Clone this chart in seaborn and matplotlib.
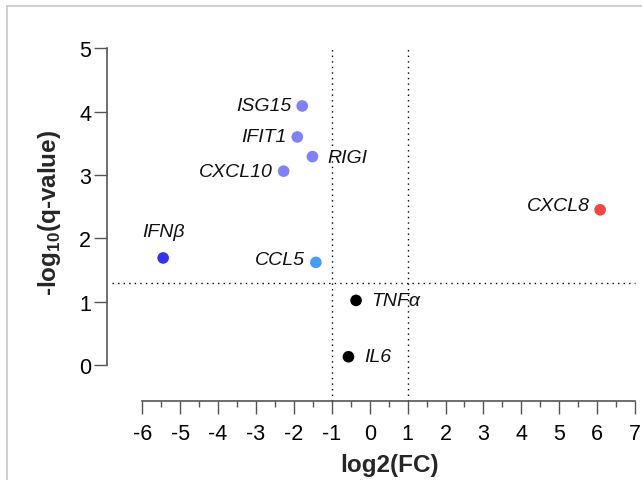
import matplotlib
matplotlib.use("Agg")
import matplotlib.pyplot as plt
from matplotlib.lines import Line2D
from matplotlib.ticker import FixedLocator
import seaborn as sns
import pandas as pd

# ---- data ----
genes = ["ISG15", "IFIT1", "RIGI", "CXCL10", "CCL5", "IFNβ", "CXCL8", "TNFα", "IL6"]
log2fc = [-1.78, -1.91, -1.51, -2.27, -1.42, -5.45, 6.08, -0.36, -0.56]
neglog10q = [4.09, 3.60, 3.29, 3.06, 1.62, 1.69, 2.45, 1.02, 0.13]
colors = ["#8080f7", "#8080f7", "#8080f7", "#8080f7", "#4a9cf2", "#3434f0",
          "#f24545", "#000000", "#000000"]
# label offsets in points (dx, dy) and horizontal alignment
label_dx = [-8, -8, 11, -8, -8, 0, -7, 11, 11]
label_dy = [0, 0, -1, 0, 2, 19, 3, 0, 0]
label_ha = ["right", "right", "left", "right", "right", "center", "right", "left", "left"]

x_ticks = list(range(-6, 8))
x_minor = [-5.5, -4.5, -3.5, -2.5, -1.5, -0.5, 0.5, 1.5, 2.5, 3.5, 4.5, 5.5, 6.5]
y_ticks = list(range(0, 6))
fc_cut = [-1, 1]
q_cut = 1.301

df = pd.DataFrame({"gene": genes, "log2FC": log2fc, "nlq": neglog10q})

sns.set_style("ticks")
plt.rcParams["font.family"] = ["Liberation Sans", "DejaVu Sans"]
plt.rcParams["mathtext.fontset"] = "custom"
plt.rcParams["mathtext.rm"] = "Liberation Sans"
plt.rcParams["mathtext.bf"] = "Liberation Sans:bold"

fig = plt.figure(figsize=(6.42, 4.81), dpi=100)
W, H = 642, 481
ax_l, ax_r, ax_t, ax_b = 106.5, 635.0, 49.3, 402.0
ax = fig.add_axes([ax_l / W, 1 - ax_b / H, (ax_r - ax_l) / W, (ax_b - ax_t) / H])

ylo = -36.0 / 63.33
xlo = -6 - 35.8 / 37.9
ax.set_xlim(xlo, 7)
ax.set_ylim(ylo, 5)

dot = (0, (1, 3))
for v in fc_cut:
    ax.plot([v, v], [ylo, 5], color="black", lw=1.0, ls=dot, zorder=1, clip_on=False)
ax.plot([xlo + 0.15, 7], [q_cut, q_cut], color="black", lw=1.0, ls=dot, zorder=1, clip_on=False)

sns.scatterplot(data=df, x="log2FC", y="nlq", hue="gene", palette=dict(zip(genes, colors)),
                s=70, edgecolor="none", legend=False, ax=ax, zorder=3, clip_on=False)

for g, x, y, dx, dy, ha in zip(genes, log2fc, neglog10q, label_dx, label_dy, label_ha):
    ax.annotate(g, (x, y), xytext=(dx, dy), textcoords="offset points", ha=ha, va="center",
                fontsize=14, fontstyle="italic", color="#111111")

for s in ["top", "right"]:
    ax.spines[s].set_visible(False)
spine_col = "#555555"
ax.spines["left"].set_bounds(0, 5)
ax.spines["bottom"].set_bounds(-6, 7)
for s in ["left", "bottom"]:
    ax.spines[s].set_color(spine_col)
    ax.spines[s].set_linewidth(1.2)

ax.set_xticks(x_ticks)
ax.set_xticklabels([str(t) for t in x_ticks])
ax.set_yticks(y_ticks)
ax.set_yticklabels([str(t) for t in y_ticks])
ax.xaxis.set_minor_locator(FixedLocator(x_minor))
ax.tick_params(axis="both", which="major", length=9.5, width=1.0, color=spine_col,
               labelsize=15.5, labelcolor="black")
ax.tick_params(axis="x", which="major", pad=6)
ax.tick_params(axis="y", which="major", pad=1.5)
ax.tick_params(axis="x", which="minor", length=4.5, width=1.0, color=spine_col)

ax.set_xlabel("log2(FC)", fontsize=17.5, fontweight="bold", va="center")
ax.set_ylabel(r"-log$_{\mathbf{10}}$(q-value)", fontsize=17.5, fontweight="bold", va="center")
ax.xaxis.set_label_coords((390 - ax_l) / (ax_r - ax_l), -(466 - ax_b) / (ax_b - ax_t))
ax.yaxis.set_label_coords((50 - ax_l) / (ax_r - ax_l), (ax_b - 213) / (ax_b - ax_t))

# light grey frame on left/top of the figure
fig.add_artist(Line2D([7 / W, 7 / W], [0, 1 - 6.5 / H], transform=fig.transFigure,
                      color="#c8c8c8", lw=1.2))
fig.add_artist(Line2D([7 / W, 1], [1 - 6.5 / H, 1 - 6.5 / H], transform=fig.transFigure,
                      color="#c8c8c8", lw=1.2))

fig.savefig("out.png", dpi=100)
